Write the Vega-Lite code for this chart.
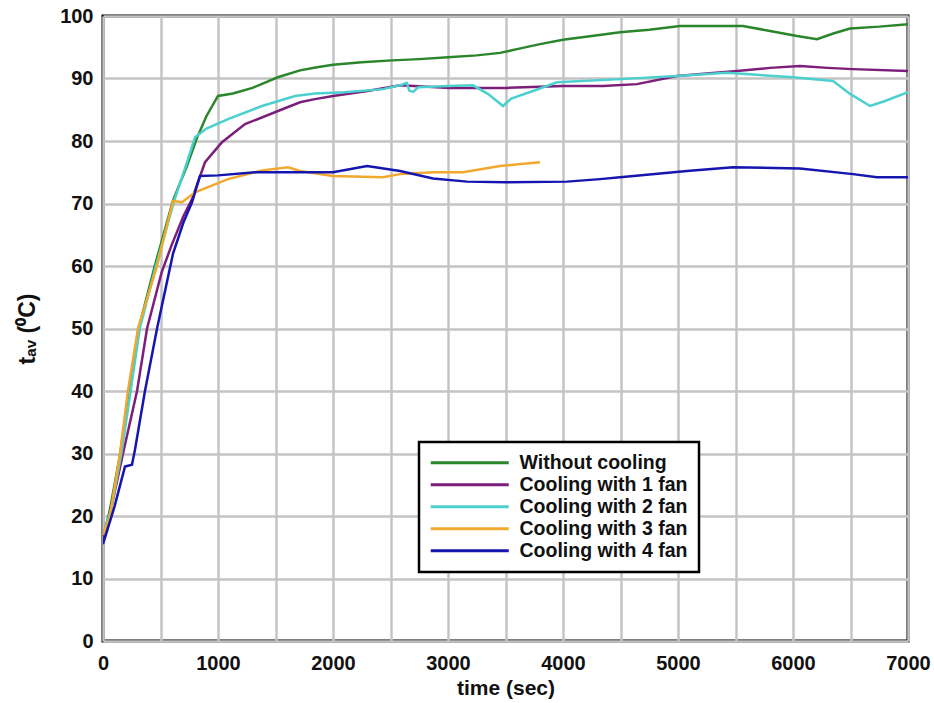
{
  "$schema": "https://vega.github.io/schema/vega-lite/v6.json",
  "width": 805,
  "height": 625,
  "autosize": {"type": "none"},
  "padding": {"left": 103, "top": 16, "right": 26, "bottom": 62},
  "background": "white",
  "config": {
    "view": {"stroke": "black", "strokeWidth": 3},
    "font": "Liberation Sans"
  },
  "datasets": {
    "d": [
      {"s": "Without cooling", "t": 0, "v": 16.5},
      {"s": "Without cooling", "t": 60, "v": 21},
      {"s": "Without cooling", "t": 150, "v": 30},
      {"s": "Without cooling", "t": 225, "v": 40},
      {"s": "Without cooling", "t": 310, "v": 50},
      {"s": "Without cooling", "t": 450, "v": 60},
      {"s": "Without cooling", "t": 609, "v": 70.5},
      {"s": "Without cooling", "t": 730, "v": 76},
      {"s": "Without cooling", "t": 817, "v": 80.5},
      {"s": "Without cooling", "t": 900, "v": 84},
      {"s": "Without cooling", "t": 1000, "v": 87.2},
      {"s": "Without cooling", "t": 1130, "v": 87.6},
      {"s": "Without cooling", "t": 1300, "v": 88.5},
      {"s": "Without cooling", "t": 1520, "v": 90.2},
      {"s": "Without cooling", "t": 1713, "v": 91.3},
      {"s": "Without cooling", "t": 1860, "v": 91.8},
      {"s": "Without cooling", "t": 2000, "v": 92.2},
      {"s": "Without cooling", "t": 2250, "v": 92.6},
      {"s": "Without cooling", "t": 2513, "v": 92.9},
      {"s": "Without cooling", "t": 2750, "v": 93.1},
      {"s": "Without cooling", "t": 3000, "v": 93.4},
      {"s": "Without cooling", "t": 3250, "v": 93.7},
      {"s": "Without cooling", "t": 3452, "v": 94.1},
      {"s": "Without cooling", "t": 3600, "v": 94.7},
      {"s": "Without cooling", "t": 3800, "v": 95.5},
      {"s": "Without cooling", "t": 4000, "v": 96.2},
      {"s": "Without cooling", "t": 4250, "v": 96.8},
      {"s": "Without cooling", "t": 4496, "v": 97.4},
      {"s": "Without cooling", "t": 4750, "v": 97.8},
      {"s": "Without cooling", "t": 5017, "v": 98.4},
      {"s": "Without cooling", "t": 5300, "v": 98.4},
      {"s": "Without cooling", "t": 5565, "v": 98.4},
      {"s": "Without cooling", "t": 5800, "v": 97.6},
      {"s": "Without cooling", "t": 6035, "v": 96.8},
      {"s": "Without cooling", "t": 6209, "v": 96.3},
      {"s": "Without cooling", "t": 6350, "v": 97.2},
      {"s": "Without cooling", "t": 6496, "v": 98.0},
      {"s": "Without cooling", "t": 6750, "v": 98.3},
      {"s": "Without cooling", "t": 7000, "v": 98.7},

      {"s": "Cooling with 1 fan", "t": 0, "v": 16},
      {"s": "Cooling with 1 fan", "t": 80, "v": 22},
      {"s": "Cooling with 1 fan", "t": 174, "v": 30},
      {"s": "Cooling with 1 fan", "t": 296, "v": 40},
      {"s": "Cooling with 1 fan", "t": 383, "v": 50},
      {"s": "Cooling with 1 fan", "t": 510, "v": 59},
      {"s": "Cooling with 1 fan", "t": 600, "v": 63.5},
      {"s": "Cooling with 1 fan", "t": 700, "v": 68},
      {"s": "Cooling with 1 fan", "t": 774, "v": 70.7},
      {"s": "Cooling with 1 fan", "t": 887, "v": 76.6},
      {"s": "Cooling with 1 fan", "t": 1035, "v": 79.8},
      {"s": "Cooling with 1 fan", "t": 1235, "v": 82.7},
      {"s": "Cooling with 1 fan", "t": 1522, "v": 84.8},
      {"s": "Cooling with 1 fan", "t": 1713, "v": 86.2},
      {"s": "Cooling with 1 fan", "t": 1843, "v": 86.7},
      {"s": "Cooling with 1 fan", "t": 2000, "v": 87.2},
      {"s": "Cooling with 1 fan", "t": 2300, "v": 88.0},
      {"s": "Cooling with 1 fan", "t": 2583, "v": 88.9},
      {"s": "Cooling with 1 fan", "t": 3017, "v": 88.5},
      {"s": "Cooling with 1 fan", "t": 3513, "v": 88.5},
      {"s": "Cooling with 1 fan", "t": 4000, "v": 88.8},
      {"s": "Cooling with 1 fan", "t": 4348, "v": 88.8},
      {"s": "Cooling with 1 fan", "t": 4643, "v": 89.1},
      {"s": "Cooling with 1 fan", "t": 4991, "v": 90.4},
      {"s": "Cooling with 1 fan", "t": 5250, "v": 90.8},
      {"s": "Cooling with 1 fan", "t": 5513, "v": 91.2},
      {"s": "Cooling with 1 fan", "t": 5800, "v": 91.7},
      {"s": "Cooling with 1 fan", "t": 6061, "v": 92.0},
      {"s": "Cooling with 1 fan", "t": 6300, "v": 91.7},
      {"s": "Cooling with 1 fan", "t": 6522, "v": 91.5},
      {"s": "Cooling with 1 fan", "t": 7000, "v": 91.2},

      {"s": "Cooling with 2 fan", "t": 0, "v": 17},
      {"s": "Cooling with 2 fan", "t": 70, "v": 21},
      {"s": "Cooling with 2 fan", "t": 160, "v": 30},
      {"s": "Cooling with 2 fan", "t": 240, "v": 40},
      {"s": "Cooling with 2 fan", "t": 320, "v": 50},
      {"s": "Cooling with 2 fan", "t": 460, "v": 60},
      {"s": "Cooling with 2 fan", "t": 620, "v": 70.5},
      {"s": "Cooling with 2 fan", "t": 720, "v": 76},
      {"s": "Cooling with 2 fan", "t": 800, "v": 80.6},
      {"s": "Cooling with 2 fan", "t": 900, "v": 82},
      {"s": "Cooling with 2 fan", "t": 1087, "v": 83.5},
      {"s": "Cooling with 2 fan", "t": 1383, "v": 85.6},
      {"s": "Cooling with 2 fan", "t": 1670, "v": 87.2},
      {"s": "Cooling with 2 fan", "t": 1843, "v": 87.6},
      {"s": "Cooling with 2 fan", "t": 2100, "v": 87.8},
      {"s": "Cooling with 2 fan", "t": 2435, "v": 88.3},
      {"s": "Cooling with 2 fan", "t": 2600, "v": 89.0},
      {"s": "Cooling with 2 fan", "t": 2640, "v": 89.3},
      {"s": "Cooling with 2 fan", "t": 2665, "v": 88.0},
      {"s": "Cooling with 2 fan", "t": 2700, "v": 87.9},
      {"s": "Cooling with 2 fan", "t": 2740, "v": 88.6},
      {"s": "Cooling with 2 fan", "t": 3000, "v": 88.8},
      {"s": "Cooling with 2 fan", "t": 3217, "v": 88.9},
      {"s": "Cooling with 2 fan", "t": 3350, "v": 87.5},
      {"s": "Cooling with 2 fan", "t": 3478, "v": 85.6},
      {"s": "Cooling with 2 fan", "t": 3550, "v": 86.8},
      {"s": "Cooling with 2 fan", "t": 3739, "v": 88.0},
      {"s": "Cooling with 2 fan", "t": 3948, "v": 89.4},
      {"s": "Cooling with 2 fan", "t": 4496, "v": 89.9},
      {"s": "Cooling with 2 fan", "t": 4991, "v": 90.4},
      {"s": "Cooling with 2 fan", "t": 5426, "v": 90.9},
      {"s": "Cooling with 2 fan", "t": 6000, "v": 90.2},
      {"s": "Cooling with 2 fan", "t": 6348, "v": 89.6},
      {"s": "Cooling with 2 fan", "t": 6500, "v": 87.5},
      {"s": "Cooling with 2 fan", "t": 6670, "v": 85.6},
      {"s": "Cooling with 2 fan", "t": 6800, "v": 86.4},
      {"s": "Cooling with 2 fan", "t": 7000, "v": 87.8},

      {"s": "Cooling with 3 fan", "t": 0, "v": 17},
      {"s": "Cooling with 3 fan", "t": 61, "v": 20},
      {"s": "Cooling with 3 fan", "t": 148, "v": 30},
      {"s": "Cooling with 3 fan", "t": 217, "v": 40},
      {"s": "Cooling with 3 fan", "t": 304, "v": 50},
      {"s": "Cooling with 3 fan", "t": 470, "v": 60},
      {"s": "Cooling with 3 fan", "t": 609, "v": 70.4},
      {"s": "Cooling with 3 fan", "t": 687, "v": 70.2},
      {"s": "Cooling with 3 fan", "t": 800, "v": 71.8},
      {"s": "Cooling with 3 fan", "t": 1087, "v": 73.9},
      {"s": "Cooling with 3 fan", "t": 1383, "v": 75.3},
      {"s": "Cooling with 3 fan", "t": 1609, "v": 75.8},
      {"s": "Cooling with 3 fan", "t": 1713, "v": 75.2},
      {"s": "Cooling with 3 fan", "t": 2000, "v": 74.4},
      {"s": "Cooling with 3 fan", "t": 2435, "v": 74.2},
      {"s": "Cooling with 3 fan", "t": 2583, "v": 74.7},
      {"s": "Cooling with 3 fan", "t": 2870, "v": 75.0},
      {"s": "Cooling with 3 fan", "t": 3130, "v": 75.0},
      {"s": "Cooling with 3 fan", "t": 3452, "v": 76.0},
      {"s": "Cooling with 3 fan", "t": 3800, "v": 76.6},

      {"s": "Cooling with 4 fan", "t": 0, "v": 15.5},
      {"s": "Cooling with 4 fan", "t": 100, "v": 21.5},
      {"s": "Cooling with 4 fan", "t": 191, "v": 27.9},
      {"s": "Cooling with 4 fan", "t": 252, "v": 28.2},
      {"s": "Cooling with 4 fan", "t": 278, "v": 30.6},
      {"s": "Cooling with 4 fan", "t": 365, "v": 40},
      {"s": "Cooling with 4 fan", "t": 470, "v": 50},
      {"s": "Cooling with 4 fan", "t": 609, "v": 62},
      {"s": "Cooling with 4 fan", "t": 700, "v": 67},
      {"s": "Cooling with 4 fan", "t": 774, "v": 70.2},
      {"s": "Cooling with 4 fan", "t": 843, "v": 74.4},
      {"s": "Cooling with 4 fan", "t": 1000, "v": 74.5},
      {"s": "Cooling with 4 fan", "t": 1322, "v": 75.0},
      {"s": "Cooling with 4 fan", "t": 1843, "v": 75.0},
      {"s": "Cooling with 4 fan", "t": 2000, "v": 75.0},
      {"s": "Cooling with 4 fan", "t": 2296, "v": 76.0},
      {"s": "Cooling with 4 fan", "t": 2583, "v": 75.2},
      {"s": "Cooling with 4 fan", "t": 2870, "v": 74.0},
      {"s": "Cooling with 4 fan", "t": 3165, "v": 73.5},
      {"s": "Cooling with 4 fan", "t": 3500, "v": 73.4},
      {"s": "Cooling with 4 fan", "t": 4035, "v": 73.5},
      {"s": "Cooling with 4 fan", "t": 4322, "v": 73.9},
      {"s": "Cooling with 4 fan", "t": 4496, "v": 74.2},
      {"s": "Cooling with 4 fan", "t": 5078, "v": 75.2},
      {"s": "Cooling with 4 fan", "t": 5478, "v": 75.8},
      {"s": "Cooling with 4 fan", "t": 6061, "v": 75.6},
      {"s": "Cooling with 4 fan", "t": 6522, "v": 74.7},
      {"s": "Cooling with 4 fan", "t": 6730, "v": 74.2},
      {"s": "Cooling with 4 fan", "t": 7000, "v": 74.2}
    ]
  },
  "data": {"name": "d"},
  "mark": {"type": "line", "strokeWidth": 2.5, "clip": true},
  "encoding": {
    "x": {
      "field": "t",
      "type": "quantitative",
      "scale": {"domain": [0, 7000], "nice": false},
      "axis": {
        "title": "time (sec)",
        "values": [0, 500, 1000, 1500, 2000, 2500, 3000, 3500, 4000, 4500, 5000, 5500, 6000, 6500, 7000],
        "labelExpr": "datum.value % 1000 == 0 ? datum.label : ''",
        "format": "d",
        "domain": false,
        "ticks": false,
        "grid": true,
        "gridColor": "#c4c4c4",
        "gridWidth": 2.5,
        "gridOpacity": 1,
        "labelFont": "Liberation Sans",
        "labelFontSize": 20,
        "labelFontWeight": "bold",
        "labelColor": "#111",
        "labelPadding": 12,
        "labelFlush": false,
        "labelOverlap": false,
        "titleFont": "Liberation Sans",
        "titleFontSize": 21,
        "titleFontWeight": "bold",
        "titleColor": "#111",
        "titlePadding": 4
      }
    },
    "y": {
      "field": "v",
      "type": "quantitative",
      "scale": {"domain": [0, 100], "nice": false},
      "axis": {
        "title": "tₐᵥ (⁰C)",
        "values": [0, 10, 20, 30, 40, 50, 60, 70, 80, 90, 100],
        "domain": false,
        "ticks": false,
        "grid": true,
        "gridColor": "#c4c4c4",
        "gridWidth": 2.5,
        "gridOpacity": 1,
        "labelFont": "Liberation Sans",
        "labelFontSize": 20,
        "labelFontWeight": "bold",
        "labelColor": "#111",
        "labelPadding": 10,
        "labelFlush": false,
        "labelOverlap": false,
        "titleFont": "Liberation Sans",
        "titleFontSize": 23,
        "titleFontWeight": "bold",
        "titleColor": "#111",
        "titlePadding": 20
      }
    },
    "color": {
      "field": "s",
      "type": "nominal",
      "scale": {
        "domain": ["Without cooling", "Cooling with 1 fan", "Cooling with 2 fan", "Cooling with 3 fan", "Cooling with 4 fan"],
        "range": ["#2b862b", "#7d1e7a", "#4ccfcf", "#f2a82e", "#1515b0"]
      },
      "legend": {
        "title": null,
        "orient": "none",
        "legendX": 316,
        "legendY": 426,
        "symbolType": "M-5.2,0L5.2,0",
        "symbolSize": 225,
        "symbolStrokeWidth": 3,
        "symbolOffset": 30,
        "labelFont": "Liberation Sans",
        "labelFontSize": 19.5,
        "labelFontWeight": "bold",
        "labelColor": "#111",
        "labelOffset": 40,
        "labelLimit": 300,
        "rowPadding": 1,
        "padding": 11,
        "strokeColor": "black",
        "fillColor": "white",
        "encode": {"legend": {"update": {"strokeWidth": {"value": 2.5}}}}
      }
    }
  }
}
